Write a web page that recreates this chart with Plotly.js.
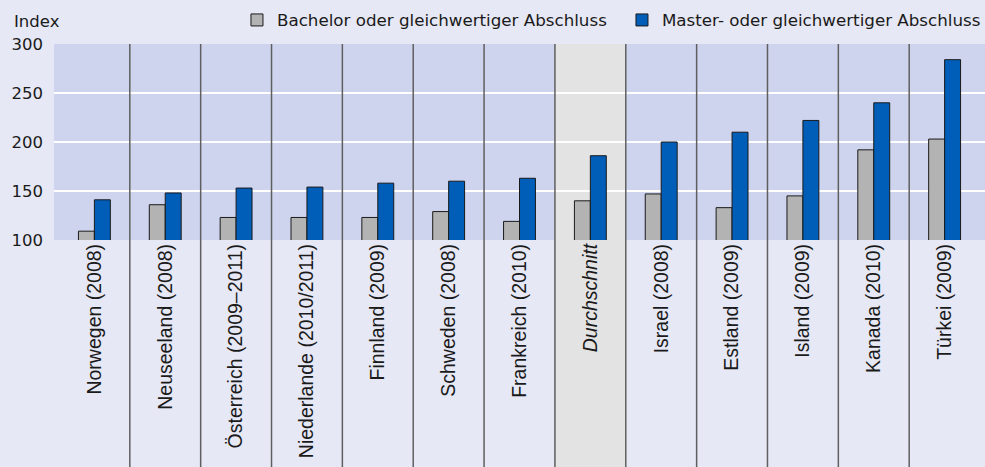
<!DOCTYPE html>
<html>
<head>
<meta charset="utf-8">
<script src="https://cdn.plot.ly/plotly-3.0.1.min.js"></script>
<style>html,body{margin:0;padding:0;background:#e6e8f5;}#chart{width:985px;height:467px;}</style>
</head>
<body>
<div id="chart"></div>
<script>
const categories = ["Norwegen (2008)", "Neuseeland (2008)", "Österreich (2009–2011)", "Niederlande (2010/2011)", "Finnland (2009)", "Schweden (2008)", "Frankreich (2010)", "Durchschnitt", "Israel (2008)", "Estland (2009)", "Island (2009)", "Kanada (2010)", "Türkei (2009)"];
const bachelor = [109, 136, 123, 123, 123, 129, 119, 140, 147, 133, 145, 192, 203];
const master = [141, 148, 153, 154, 158, 160, 163, 186, 200, 210, 222, 240, 284];
const seriesNames = ["Bachelor oder gleichwertiger Abschluss", "Master- oder gleichwertiger Abschluss"];
const highlight = "Durchschnitt";
const yTicks = [100, 150, 200, 250, 300];

const tickText = categories.map(c => c === highlight ? "<i>" + c + "</i>" : c);

const traces = [
  {type: "bar", name: seriesNames[0], x: categories, y: bachelor,
   marker: {color: "#b3b3b3", line: {color: "#1a1a1a", width: 1}}},
  {type: "bar", name: seriesNames[1], x: categories, y: master,
   marker: {color: "#005eb8", line: {color: "#1a1a1a", width: 1}}}
];

const H = 467, T = 44, B = 227;
const plotH = H - T - B;
const yBottom = -B / plotH;

const shapes = [];
shapes.push({type: "rect", xref: "paper", yref: "paper", x0: 0, x1: 1, y0: 0, y1: 1,
  fillcolor: "#cfd4ee", line: {width: 0}, layer: "below"});
const hi = categories.indexOf(highlight);
shapes.push({type: "rect", xref: "x", yref: "paper", x0: hi - 0.5, x1: hi + 0.5, y0: yBottom, y1: 1,
  fillcolor: "#e3e3e3", line: {width: 0}, layer: "below"});
for (let i = 0; i < categories.length - 1; i++) {
  shapes.push({type: "line", xref: "x", yref: "paper", x0: i + 0.5, x1: i + 0.5, y0: yBottom, y1: 1,
    line: {color: "#5f5f5f", width: 1.5}, layer: "above"});
}

const layout = {
  width: 985, height: 467,
  margin: {l: 54, r: 0, t: T, b: B, pad: 0, autoexpand: false},
  paper_bgcolor: "#e6e8f5",
  plot_bgcolor: "rgba(0,0,0,0)",
  barmode: "group",
  bargap: 0.55,
  bargroupgap: 0,
  showlegend: true,
  legend: {orientation: "h", x: 1.0236, xanchor: "right", y: 1.122, yanchor: "middle",
    entrywidth: 340,
    font: {family: "DejaVu Sans", size: 16.7, color: "#1a1a1a"}, bgcolor: "rgba(0,0,0,0)",
    traceorder: "normal"},
  xaxis: {
    type: "category",
    range: [-0.57, categories.length - 0.43],
    tickangle: -90,
    tickvals: categories, ticktext: tickText,
    tickfont: {family: "Liberation Sans", size: 19.5, color: "#1a1a1a"},
    showgrid: false, zeroline: false, showline: false, ticks: "", ticklen: 0,
    ticklabelstandoff: -1
  },
  yaxis: {
    range: [100, 300],
    tickvals: yTicks,
    tickfont: {family: "DejaVu Sans", size: 16.5, color: "#1a1a1a"},
    showgrid: true, gridcolor: "#ffffff", gridwidth: 2,
    zeroline: false, showline: false, ticks: "", ticklabelstandoff: 10
  },
  shapes: shapes,
  annotations: [{text: "Index", xref: "paper", yref: "paper", x: (11.7 - 54) / 931, y: (240 - 21) / plotH,
    xanchor: "left", yanchor: "middle", showarrow: false,
    font: {family: "DejaVu Sans", size: 16.5, color: "#1a1a1a"}}]
};

Plotly.newPlot("chart", traces, layout, {displayModeBar: false, staticPlot: true});
</script>
</body>
</html>
